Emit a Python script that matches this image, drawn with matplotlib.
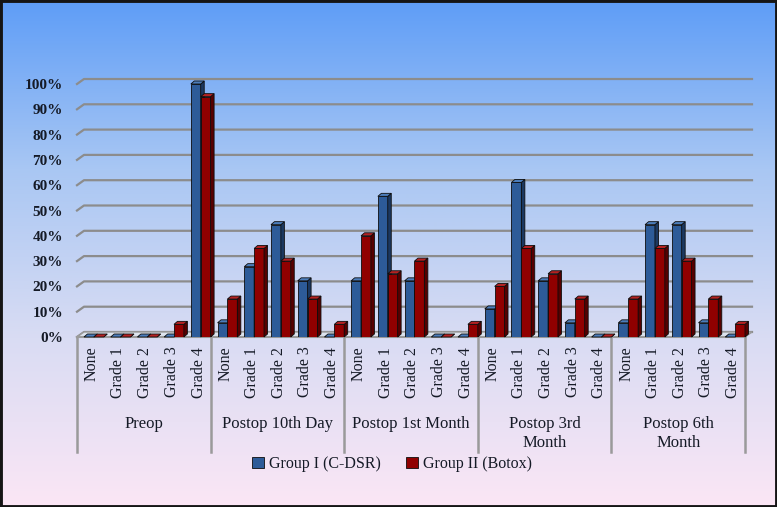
import numpy as np
import matplotlib.pyplot as plt
from matplotlib.patches import Polygon, Patch, Rectangle
from matplotlib.colors import LinearSegmentedColormap
from matplotlib.ticker import PercentFormatter

# data (percent of patients)
periods = ['Preop', 'Postop 10th Day', 'Postop 1st Month', 'Postop 3rd\nMonth', 'Postop 6th\nMonth']
grades = ['None', 'Grade 1', 'Grade 2', 'Grade 3', 'Grade 4']
series_names = ['Group I (C-DSR)', 'Group II (Botox)']
group1 = [0, 0, 0, 0, 100,
          5.6, 27.8, 44.4, 22.2, 0,
          22.2, 55.6, 22.2, 0, 0,
          11.1, 61.1, 22.2, 5.6, 0,
          5.6, 44.4, 44.4, 5.6, 0]
group2 = [0, 0, 0, 5, 95,
          15, 35, 30, 15, 5,
          40, 25, 30, 0, 5,
          20, 35, 25, 15, 0,
          15, 35, 30, 15, 5]

# colours: front, side, top
blue = ('#2d5b98', '#1b3860', '#4c7dbb')
red = ('#900000', '#560000', '#b52222')
text_color = '#151a26'
font = 'Liberation Serif'

plt.rcParams['font.family'] = font

fig = plt.figure(figsize=(7.77, 5.07), dpi=100)

# background gradient (blue -> pink)
bg = fig.add_axes([0, 0, 1, 1], zorder=-10)
cmap = LinearSegmentedColormap.from_list('bg', ['#5e9df7', '#a9c7f3', '#d9dcf3', '#fbe6f5'])
grad = np.linspace(0, 1, 256).reshape(-1, 1)
bg.imshow(grad, aspect='auto', cmap=cmap, extent=[0, 1, 0, 1])
bg.add_patch(Rectangle((0, 0), 1, 1, transform=bg.transAxes, fill=False, edgecolor='#151515', lw=3.5))
bg.set_axis_off()

ax = fig.add_axes([77/777, (507-337)/507, (745-77)/777, (337-84)/507])
ax.patch.set_alpha(0)
for s in ax.spines.values():
    s.set_visible(False)

n = len(group1)
ax.set_xlim(0, n)
ax.set_ylim(0, 1)

# depth of the walls and the bars (data units)
wdx, wdy = 7/26.72, 5/253
bdx, bdy = 3.5/26.72, 3/253

# back wall gridlines + left wall
yt = np.arange(0, 1.01, 0.1)
for v in yt:
    ax.plot([0, wdx, n + wdx], [v, v + wdy, v + wdy], color='#8c8c8c', lw=1.6, zorder=1, clip_on=False)

# floor
ax.add_patch(Polygon([(0, 0), (n, 0), (n + wdx, wdy), (wdx, wdy)], closed=True,
                     facecolor='#dde4ee', edgecolor='#9a9a9a', lw=1, zorder=2, clip_on=False))


def bar3d(x0, w, h, cols):
    ax.bar(x0, h, w, align='edge', color=cols[0], edgecolor='#0d0d0d', lw=0.6, zorder=3)
    x1 = x0 + w
    ax.add_patch(Polygon([(x1, 0), (x1 + bdx, bdy), (x1 + bdx, h + bdy), (x1, h)], closed=True,
                         facecolor=cols[1], edgecolor='#0d0d0d', lw=0.6, zorder=3, clip_on=False))
    ax.add_patch(Polygon([(x0, h), (x1, h), (x1 + bdx, h + bdy), (x0 + bdx, h + bdy)], closed=True,
                         facecolor=cols[2], edgecolor='#0d0d0d', lw=0.6, zorder=3, clip_on=False))


w = 0.37
for i in range(n):
    bar3d(i + 0.26, w, group1[i] / 100, blue)
    bar3d(i + 0.26 + w, w, group2[i] / 100, red)

# y axis
ax.set_yticks(yt)
ax.yaxis.set_major_formatter(PercentFormatter(1.0, decimals=0))
ax.tick_params(axis='y', length=0, pad=10, labelsize=11, labelcolor=text_color)
for t in ax.get_yticklabels():
    t.set_fontweight('bold')

# category axis: grades
ax.set_xticks(np.arange(n) + 0.55)
ax.set_xticklabels(grades * len(periods), rotation=90, va='top', ha='center')
ax.tick_params(axis='x', length=0, pad=7, labelsize=11.5, labelcolor=text_color)

# category axis: periods and separators
ax.plot([0, n], [0, 0], color='#9a9a9a', lw=1.5, clip_on=False, zorder=2)
low = -(452 - 337) / 253
for g in range(len(periods) + 1):
    ax.plot([g*5, g*5], [0, low], color='#9a9a9a', lw=1.8, clip_on=False)
for g, p in enumerate(periods):
    ax.text(g*5 + 2.5, -(416 - 337) / 253, p, ha='center', va='top', fontsize=12,
            color=text_color, linespacing=1.25)

# legend
handles = [Patch(facecolor=blue[0], edgecolor='#0d0d0d', lw=0.6),
           Patch(facecolor=red[0], edgecolor='#0d0d0d', lw=0.6)]
fig.legend(handles, series_names, loc='center', bbox_to_anchor=(392/777, 1 - 464/507), ncol=2,
           frameon=False, fontsize=11.5, handlelength=0.75, handleheight=0.75, handletextpad=0.3,
           columnspacing=1.6, labelcolor=text_color)

fig.savefig('out.png', dpi=100)
plt.close()
